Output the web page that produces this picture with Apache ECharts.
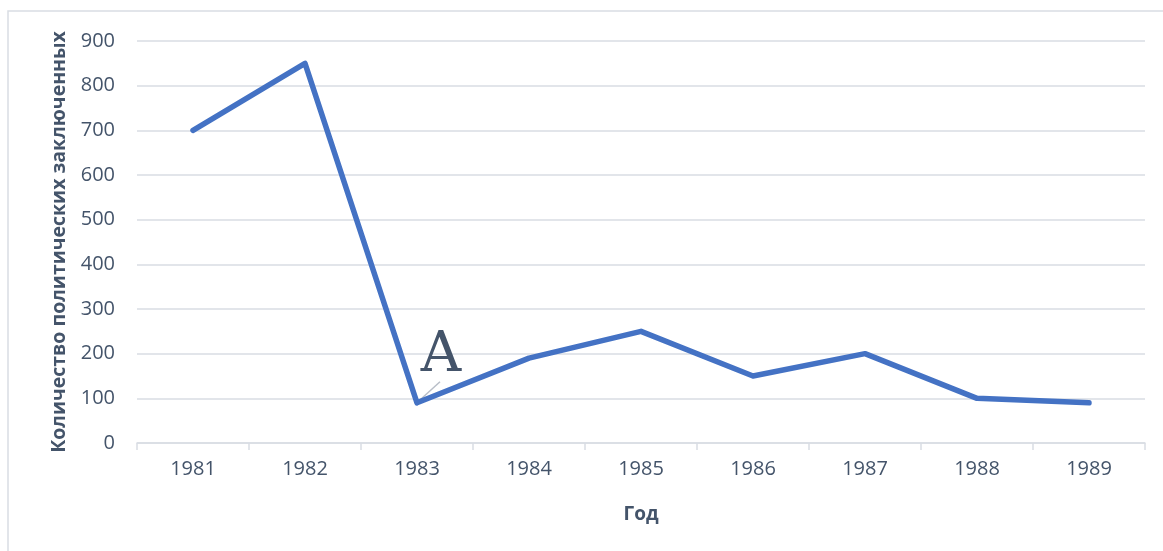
<!DOCTYPE html>
<html>
<head>
<meta charset="utf-8">
<script src="https://cdn.jsdelivr.net/npm/echarts@6/dist/echarts.min.js"></script>
<style>
  html, body { margin: 0; padding: 0; background: #fff; }
  #chart { width: 1163px; height: 551px; }
</style>
</head>
<body>
<div id="chart"></div>
<script>
// данные графика
const years = ['1981', '1982', '1983', '1984', '1985', '1986', '1987', '1988', '1989'];
const prisoners = [700, 850, 90, 190, 250, 150, 200, 100, 90];
const yTicks = { min: 0, max: 900, interval: 100 };
const noteYear = '1983';
const noteText = 'A';

const textColor = '#44546a';
const gridColor = '#d9dde3';

const chart = echarts.init(document.getElementById('chart'));

chart.setOption({
  backgroundColor: '#fff',
  animation: false,
  grid: { left: 137, right: 18, top: 41, bottom: 108 },
  xAxis: {
    type: 'category',
    data: years,
    boundaryGap: true,
    name: 'Год',
    nameLocation: 'middle',
    nameGap: 62,
    nameTextStyle: { color: textColor, fontSize: 19, fontWeight: 'bold', fontFamily: 'Open Sans' },
    axisLine: { lineStyle: { color: gridColor, width: 1.5 } },
    axisTick: { show: true, length: 7, lineStyle: { color: gridColor, width: 1.5 } },
    axisLabel: { color: textColor, fontSize: 20, margin: 16, fontFamily: 'Open Sans' },
  },
  yAxis: {
    type: 'value',
    min: yTicks.min,
    max: yTicks.max,
    interval: yTicks.interval,
    name: 'Количество политических заключенных',
    nameLocation: 'middle',
    nameGap: 66,
    nameTextStyle: { color: textColor, fontSize: 19.5, fontWeight: 'bold', fontFamily: 'Open Sans' },
    axisLine: { show: false },
    axisTick: { show: false },
    splitLine: { lineStyle: { color: gridColor, width: 1.5 } },
    axisLabel: { color: textColor, fontSize: 20, margin: 22, fontFamily: 'Open Sans' },
  },
  series: [
    {
      type: 'line',
      data: prisoners,
      symbol: 'none',
      lineStyle: { color: '#4472c4', width: 5.5, cap: 'round', join: 'round' },
      z: 3,
    },
  ],
});

// подпись "A" у точки 1983 года и серая линия-выноска
const p = chart.convertToPixel({ xAxisIndex: 0, yAxisIndex: 0 }, [noteYear, prisoners[years.indexOf(noteYear)]]);
chart.setOption({
  graphic: [
    {
      type: 'rect',
      shape: { x: 8, y: 11, width: 1300, height: 700 },
      style: { fill: 'none', stroke: '#d9dde3', lineWidth: 1.5 },
      silent: true,
    },
    {
      type: 'line',
      shape: { x1: p[0] + 1, y1: p[1] - 1, x2: p[0] + 23, y2: p[1] - 21 },
      style: { stroke: '#b8bec8', lineWidth: 1.5 },
      z: 2,
    },
    {
      type: 'text',
      x: p[0] + 24,
      y: p[1] - 18,
      style: {
        text: noteText,
        fill: textColor,
        font: '56px "DejaVu Serif", "Liberation Serif", serif',
        align: 'center',
        verticalAlign: 'bottom',
      },
      z: 5,
    },
  ],
});
</script>
</body>
</html>
